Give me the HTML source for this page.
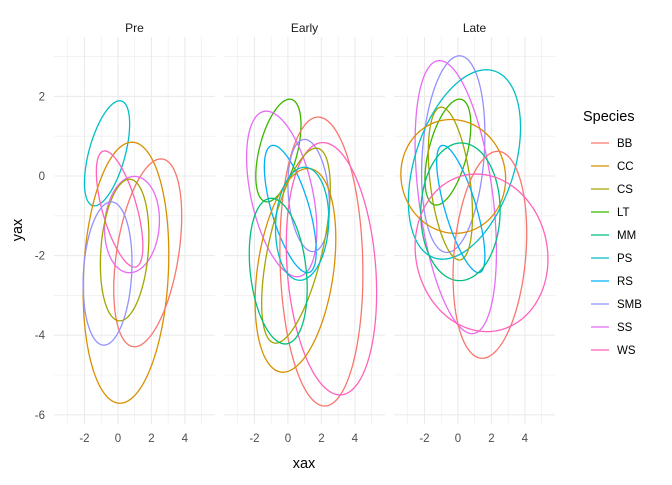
<!DOCTYPE html>
<html><head><meta charset="utf-8"><style>
body{margin:0;background:#fff;font-family:"Liberation Sans",sans-serif;}
svg text{font-family:"Liberation Sans",sans-serif;}
</style></head><body>
<svg id="chart" width="672" height="480" xmlns="http://www.w3.org/2000/svg"></svg>
<script>
const species=["BB","CC","CS","LT","MM","PS","RS","SMB","SS","WS"];
const colors=["#F8766D","#D89000","#A3A500","#39B600","#00BF7D","#00BFC4","#00B0F6","#9590FF","#E76BF3","#FF62BC"];
const facets=["Pre","Early","Late"];
const xTicks=[-2,0,2,4];
const yTicks=[2,0,-2,-4,-6];
// ellipse params: [species, cx, cy, rx, ry, rho]
const preEllipses=[
 ["PS",-0.65,0.57,1.35,1.32,0.56],["CC",0.48,-2.43,2.56,3.28,0.14],["WS",0.1,-0.83,1.39,1.46,-0.64],
 ["BB",1.78,-1.93,2.03,2.36,0.39],["SS",0.84,-1.22,1.64,1.21,0.09],["CS",0.4,-1.86,1.45,1.78,0.2],
 ["SMB",-0.62,-2.45,1.46,1.8,0.15]];
const earlyEllipses=[
 ["LT",-0.57,0.64,1.35,1.29,0.5],["SS",-0.37,-0.45,2.1,2.08,-0.44],["RS",0.14,-0.83,1.55,1.6,-0.66],
 ["BB",2.0,-2.15,2.48,3.63,-0.08],["SMB",1.24,-0.49,1.24,1.41,-0.2],["WS",2.6,-2.33,2.7,3.17,-0.19],
 ["CS",0.48,-1.75,2.05,2.45,0.59],["CC",0.45,-2.37,2.41,2.56,0.31],["PS",0.85,-1.2,1.59,1.42,0.09],
 ["MM",-0.58,-2.39,1.73,1.83,-0.24]];
const lateEllipses=[
 ["SMB",-0.28,0.55,1.89,2.47,0.2],["SS",-0.13,-0.53,2.43,3.43,-0.4],["PS",0.39,0.29,3.35,2.38,0.39],
 ["LT",-0.6,0.6,1.37,1.33,0.51],["CS",-0.45,-0.19,1.32,1.92,-0.41],["CC",-0.28,-0.01,3.13,1.43,-0.04],
 ["RS",0.17,-0.83,1.44,1.6,-0.74],["MM",0.15,-0.9,2.37,1.73,0.02],["BB",1.91,-1.98,2.2,2.6,0.21],
 ["WS",1.41,-1.93,3.97,1.98,-0.08]];
const facetData=[preEllipses,earlyEllipses,lateEllipses];

const NS="http://www.w3.org/2000/svg";
const svg=document.getElementById("chart");
function mk(tag,attrs,parent){const e=document.createElementNS(NS,tag);for(const k in attrs)e.setAttribute(k,attrs[k]);(parent||svg).appendChild(e);return e;}
const panelLeft=[54,224,394], panelW=161, panelTop=37, panelBottom=424;
const xMin=-3.82,xMax=5.8,yZero=176,yUnit=39.8;
function xs(p,v){return panelLeft[p]+(v-xMin)/(xMax-xMin)*panelW;}
function ys(v){return yZero-v*yUnit;}

facets.forEach((f,p)=>{
  const g=mk("g",{});
  
  
  for(let v=-3;v<=5;v++){
    const l=mk("line",{x1:xs(p,v),x2:xs(p,v),y1:panelTop,y2:panelBottom,stroke:"#EBEBEB","stroke-width":v%2===0?1.1:0.6},g);
    
    
  }
  for(let v=-6;v<=3;v++){
    const l=mk("line",{x1:panelLeft[p],x2:panelLeft[p]+panelW,y1:ys(v),y2:ys(v),stroke:"#EBEBEB","stroke-width":v%2===0?1.1:0.6},g);
    
    
  }
  const st=mk("text",{x:panelLeft[p]+panelW/2,y:32,"text-anchor":"middle","font-size":"12",fill:"#1A1A1A"},g);
  st.textContent=f;
  
  
  xTicks.forEach(t=>{
    const tx=mk("text",{x:xs(p,t),y:442,"text-anchor":"middle","font-size":"11.5",fill:"#4D4D4D"},g);
    tx.textContent=t;
    
    
  });
  facetData[p].forEach(e=>{
    const [sp,cx,cy,rx,ry,rho]=e;
    const col=colors[species.indexOf(sp)];
    const s=Math.sqrt(1-rho*rho);
    let d="";
    for(let i=0;i<=120;i++){
      const t=i/120*2*Math.PI;
      const x=cx+rx*Math.cos(t), y=cy+ry*(rho*Math.cos(t)+s*Math.sin(t));
      d+=(i?"L":"M")+xs(p,x).toFixed(2)+","+ys(y).toFixed(2);
    }
    const path=mk("path",{d:d+"Z",fill:"none",stroke:col,"stroke-width":1.3},g);
    
    
  });
});
yTicks.forEach(t=>{
  const tx=mk("text",{x:45,y:ys(t)+4,"text-anchor":"end","font-size":"11.5",fill:"#4D4D4D"});
  tx.textContent=t;
  
  
});
const xt=mk("text",{x:304,y:468,"text-anchor":"middle","font-size":"14.5",fill:"#000"});
xt.textContent="xax";


const yt=mk("text",{x:0,y:0,"text-anchor":"middle","font-size":"14.5",fill:"#000",transform:"translate(22,230) rotate(-90)"});
yt.textContent="yax";


const lg=mk("g",{});


const lt=mk("text",{x:583,y:121,"font-size":"14.5",fill:"#000"},lg);
lt.textContent="Species";


species.forEach((sp,i)=>{
  const y=143+i*23;
  const ln=mk("line",{x1:591,x2:609,y1:y,y2:y,stroke:colors[i],"stroke-width":1.3},lg);
  
  
  const tx=mk("text",{x:617,y:y+4,"font-size":"11.5",fill:"#000"},lg);
  tx.textContent=sp;
  
  
});
</script>
</body></html>
